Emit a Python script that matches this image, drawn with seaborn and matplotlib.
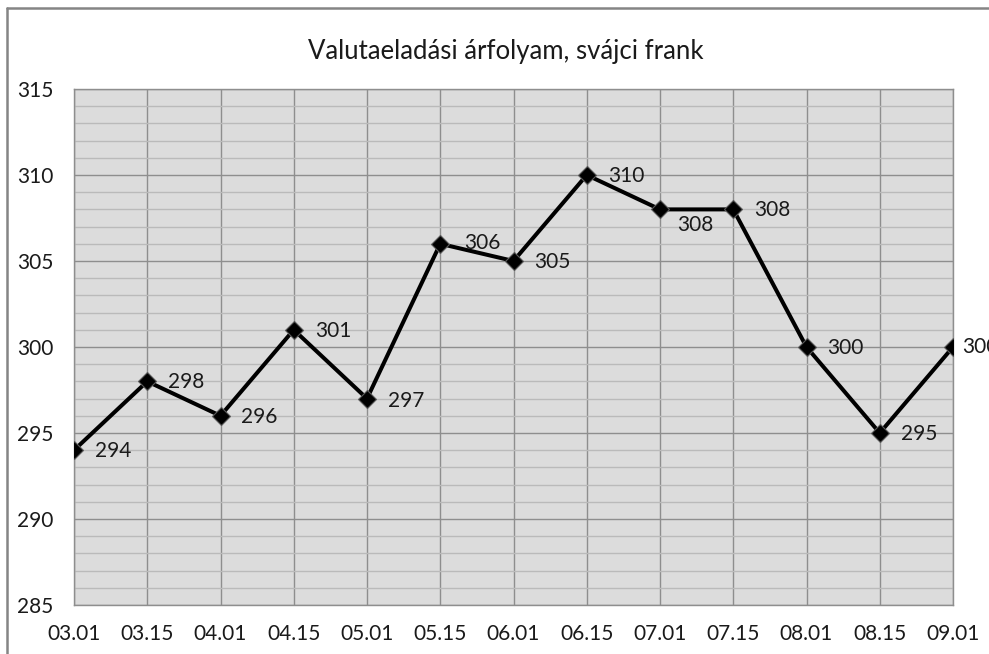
import matplotlib
matplotlib.use("Agg")
import matplotlib.pyplot as plt
from matplotlib.lines import Line2D
from matplotlib.ticker import MultipleLocator
import seaborn as sns
import pandas as pd

# ---- data ----
dates = ["03.01", "03.15", "04.01", "04.15", "05.01", "05.15", "06.01",
         "06.15", "07.01", "07.15", "08.01", "08.15", "09.01"]
rates = [294, 298, 296, 301, 297, 306, 305, 310, 308, 308, 300, 295, 300]
title = "Valutaeladási árfolyam, svájci frank"

# label offsets in pixels (style only)
label_dx = [21, 21, 21, 21, 21, 24, 21, 21, 17, 21, 21, 21, 9]
label_dy = [-1, -1, -1, -1, -2, 1, -1, -1, -16, -1, -1, -1, 0]

sns.set_style("white")
plt.rcParams['font.family'] = ['Lato', 'DejaVu Sans']

df = pd.DataFrame({"pos": range(len(dates)), "rate": rates})

fig = plt.figure(figsize=(9.89, 6.54), dpi=100)
ax = fig.add_axes([74/989, 1-605/654, (953-74)/989, (605-89)/654])
ax.set_facecolor("#dcdcdc")

sns.lineplot(data=df, x="pos", y="rate", ax=ax, color="black", linewidth=2.9,
             marker="D", markersize=9, markerfacecolor="black",
             markeredgecolor="#5a5a5a", markeredgewidth=0.8, zorder=5)

ax.set_xlim(0, len(dates) - 1)
ax.set_ylim(285, 315)
ax.set_xticks(range(len(dates)))
ax.set_xticklabels(dates)
ax.yaxis.set_major_locator(MultipleLocator(5))
ax.yaxis.set_minor_locator(MultipleLocator(1))
ax.grid(which="major", axis="both", color="#8e8e8e", linewidth=1.0, zorder=1)
ax.grid(which="minor", axis="y", color="#bababa", linewidth=1.0, zorder=0)
ax.set_axisbelow(True)
ax.tick_params(axis="both", which="both", length=0, labelsize=15, colors="#1a1a1a")
ax.tick_params(axis="y", pad=15)
ax.tick_params(axis="x", pad=14)
ax.set_xlabel("")
ax.set_ylabel("")
for s in ax.spines.values():
    s.set_color("#8e8e8e")
    s.set_linewidth(1.0)

for i, v in enumerate(rates):
    ax.annotate(str(v), (i, v), xytext=(label_dx[i], label_dy[i]),
                textcoords="offset pixels", ha="left", va="center",
                fontsize=15, color="#1a1a1a", zorder=6, annotation_clip=False)

fig.text(506/989, 1-51/654, title, ha="center", va="center", fontsize=18.5, color="#1a1a1a")

# outer chart border (left and top visible)
fig.add_artist(Line2D([6.5/989, 6.5/989], [0, 1-8/654], transform=fig.transFigure,
                      color="#858585", linewidth=1.8))
fig.add_artist(Line2D([6.5/989, 1], [1-8/654, 1-8/654], transform=fig.transFigure,
                      color="#858585", linewidth=1.8))

fig.savefig("out.png", dpi=100)
